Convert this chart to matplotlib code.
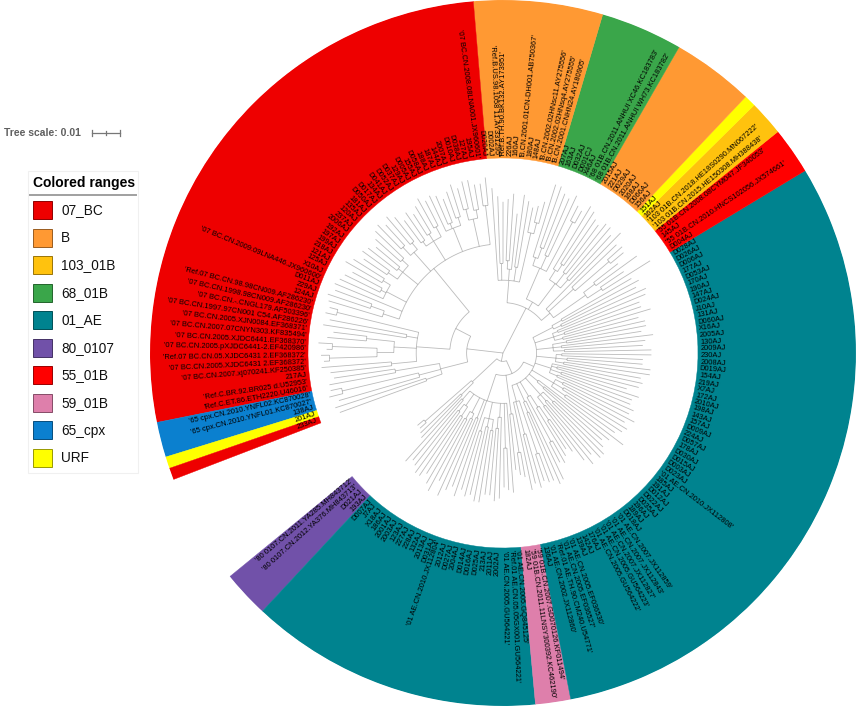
import numpy as np
import matplotlib
matplotlib.use("Agg")
import matplotlib.pyplot as plt
from matplotlib.patches import Rectangle
from matplotlib.colors import to_rgb

plt.rcParams['font.family'] = ['Liberation Sans', 'DejaVu Sans']

# ---------------- data ----------------
# branch lengths in units of 0.001 substitutions/site
PURPLE = "(('80 0107.CN.2011.YA285.MH843712':3,'80 0107.CN.2012.YA376.MH843713':3):22,(D021AJ:20,193AJ:21):6):12"
TEAL_A = ("((D007AJ:30,J7AJ:28):4,((X18AJ:25,186AJ:27):3,(2001AJ:26,2003AJ:24):4):5,"
          "((123AJ:27,227AJ:29):3,(228AJ:25,132AJ:30):2):6,(2013AJ:28,D031AJ:26):7,"
          "'01 AE.CN.2010.JX112804':36,((2012AJ:22,D027AJ:24):5,(2004AJ:25,D014AJ:27):3,(D016AJ:26,D025AJ:23):4):6,"
          "((213AJ:24,2011AJ:26):4,2002AJ:29):5,('01 AE.CN.2005.GU564221':14,'Ref.01 AE.CN.05.05GX001.GU564221':15):16,"
          "'01 AE.CN.2005.GQ845125':32):10")
PINK = "(182AJ:20,('59 01B.CN.2011.11LNSY300392.KC462190':8,'59 01B.CN.2007.GD070126.KF011494':9):14):14"
TEAL_B = [
    "(136AJ:32,('01 AE.CN.2002.JX112860':18,'Ref.01 AE.TH.90.CM240.U54771':20):12,('01 AE.CN.2005.EF036527':10,'01 AE.CN.2005.EF036530':11):20):6",
    "((139AJ:26,142AJ:28):4,176AJ:31):7",
    "(('01 AE.CN.2005.GU564222':8,'01 AE.CN.2005.GU564223':9):18,('01 AE.CN.2007.JX112827':20,('01 AE.CN.2007.JX112843':12,'01 AE.CN.2007.JX112859':14):6):5):6",
    "((D018AJ:24,189AJ:27):4,(196AJ:25,D035AJ:28):3,(D022AJ:26,D012AJ:24):5):8",
    "((191AJ:28,185AJ:30):3,'01 AE.CN.2010.JX112808':38):4",
    "((D023AJ:22,D003AJ:24):6,(D015AJ:27,D030AJ:25):4,(178AJ:29,D057AJ:26):3):9",
    "((224AJ:30,D009AJ:28):3,(157AJ:27,143AJ:29):4,(198AJ:26,2010AJ:30):2,172AJ:33):6",
    "((X7AJ:28,219AJ:31):3,(154AJ:30,D019AJ:27):4,(2008AJ:29,230AJ:32):2):7",
    "((2009AJ:31,130AJ:28):4,(2005AJ:30,X16AJ:33):3,(D060AJ:27,131AJ:29):5):6",
    "((J10AJ:30,D024AJ:28):3,(147AJ:32,190AJ:29):4,(170AJ:31,D053AJ:34):2):7",
    "((177AJ:33,D006AJ:30):3,(D026AJ:31,D028AJ:29):4):8",
]
R55 = "((D004AJ:20,'55 01B.CN.2010.HNCS102056.JX574661':10):6,(145AJ:18,'55 01B.CN.2008.08CYM047.JF340053':11):5):14"
GOLD = "(('103 01B.CN.2015.HE150308.MH388438':6,'103 01B.CN.2018.HE18S0290.MN067222':7):16,162AJ:22):12"
YEL = "151AJ:38"
OB2 = "((156AJ:22,D066AJ:24):4,(168AJ:23,2020AJ:21):5,((D029AJ:20,221AJ:22):3,2015AJ:26):4):10"
GREEN = ("(('68 01B.CN.2011.ANHUI WH73.KC183782':5,'68 01B.CN.2011.ANHUI XC46.KC183783':6):20,"
         "(X46AJ:24,D001CJ:22):5,((D032AJ:21,163AJ:23):4,207AJ:27):3):12")
OB1 = ("((('B.CN.2001.CNHN24.AY180905':8,'B.CN.2002.02HNsq4.AY275555':6):4,'B.CN.2002.02HNsc11.AY275556':9):18,"
       "(148AJ:24,180AJ:26):5,('B.CN.2001.01CN-DH001.AB750367':20,(160AJ:24,226AJ:22):3):4,"
       "('Ref.B.TH.90.BK132.AY173951':22,'Ref.B.US.98.1058 11.AY331295':24):6,D002AJ:33):8")
BCMAIN = ("((D020AJ:10,'07 BC.CN.2008.08LNA001.JX960601':8):14,((195AJ:9,127AJ:11):3,(D038AJ:10,D010AJ:8):4):10,"
          "((2007AJ:12,144AJ:10):3,(187AJ:9,188AJ:11):2,D058AJ:14):9,"
          "((155AJ:10,D005AJ:12):4,(129AJ:11,D037AJ:9):3,(D052AJ:12,D041AJ:10):2):8,"
          "((134AJ:11,D017AJ:13):3,(D050AJ:10,181AJ:12):4):9,"
          "((135AJ:14,120AJ:12):3,(237AJ:11,2006AJ:13):2,(192AJ:12,197AJ:10):4):7,"
          "((199AJ:13,218AJ:15):3,(121AJ:12,125AJ:14):2,X10AJ:17):8,"
          "'07 BC.CN.2009.09LNA446.JX960600':26,((D011AJ:14,229AJ:16):5,124AJ:20):6):20")
REFS = ("(('Ref.07 BC.CN.98.98CN009.AF286230':3,'07 BC.CN.1998.98CN009.AF286230':4):30,"
        "('07 BC.CN.-.CNGL179.AF503396':28,'07 BC.CN.1997.97CN001 C54.AF286226':30):4,"
        "(('07 BC.CN.2005.XJN0084.EF368371':12,'07 BC.CN.2007.07CNYN303.KF835494':14):10,"
        "(('07 BC.CN.2005.XJDC6441.EF368370':5,'07 BC.CN.2005.pXJDC6441-2.EF420986':2):16,"
        "('Ref.07 BC.CN.05.XJDC6431 2.EF368372':3,'07 BC.CN.2005.XJDC6431 2.EF368372':2):17):6):8,"
        "('07 BC.CN.2007.xj070241.KF250385':25,217AJ:22):9):12")
CGROUP = ("(('Ref.C.BR.92.BR025 d.U52953':22,'Ref.C.ET.86.ETH2220.U46016':24):16,"
          "(('65 cpx.CN.2010.YNFL02.KC870028':4,'65 cpx.CN.2010.YNFL01.KC870027':5):28,138AJ:30):8,"
          "(201AJ:34,233AJ:33):6):10")

AE = "(" + PURPLE + ",(" + TEAL_A + "," + PINK + ",(" + ",".join(TEAL_B) + "):4):5):3"
BGROUP = "((" + R55 + "," + GOLD + "," + YEL + "):4,(" + OB2 + "," + GREEN + "):3," + OB1 + "):18"
BC = "((" + BCMAIN + "," + REFS + "):6," + CGROUP + "):13"
NEWICK = "(" + AE + "," + BGROUP + "," + BC + ");"

# colored ranges in leaf order
RANGE_ORDER = ['80_0107', '01_AE', '59_01B', '01_AE', '55_01B', '103_01B', 'URF', 'B',
               '68_01B', 'B', '07_BC', '65_cpx', 'URF', '07_BC']
RANGE_COUNTS = [4, 25, 3, 57, 4, 3, 1, 7, 7, 11, 50, 3, 1, 1]
LEGEND_NAMES = ['07_BC', 'B', '103_01B', '68_01B', '01_AE', '80_0107', '55_01B', '59_01B', '65_cpx', 'URF']
LEGEND_COLORS = ['#ee0000', '#ff9933', '#ffc20e', '#3aa64a', '#00838f', '#7151a9', '#ff0000',
                 '#de7fab', '#0b80cf', '#ffff00']
COLORS = dict(zip(LEGEND_NAMES, LEGEND_COLORS))
TREE_SCALE = 0.01

# ---------------- layout constants ----------------
W, H = 858, 710
CX, CY = 503, 353          # tree centre (px)
R_OUT_PX = 353
PX_PER_UNIT = 2.8          # px per 0.001
R_OUT = R_OUT_PX / PX_PER_UNIT
R_IN = 195 / PX_PER_UNIT
R_LAB = 197.5 / PX_PER_UNIT
START, SPAN = 219.3, 341.7


def clean(s):
    out, q = [], False
    for ch in s:
        if ch == "'":
            q = not q
        if not q and ch in ' \n\t':
            continue
        out.append(ch)
    return ''.join(out)


def parse(s):
    pos = 0

    def node():
        nonlocal pos
        children = []
        if s[pos] == '(':
            pos += 1
            while True:
                children.append(node())
                if s[pos] == ',':
                    pos += 1
                    continue
                if s[pos] == ')':
                    pos += 1
                    break
        if s[pos] == "'":
            end = s.index("'", pos + 1)
            name = s[pos:end + 1]
            pos = end + 1
        else:
            st = pos
            while s[pos] not in ':,();':
                pos += 1
            name = s[st:pos]
        length = 0.0
        if s[pos] == ':':
            pos += 1
            st = pos
            while s[pos] not in ',();':
                pos += 1
            length = float(s[st:pos])
        return {'name': name, 'children': children, 'len': length}

    return node()


tree = parse(clean(NEWICK))
leaves = []


def collect(n):
    if not n['children']:
        leaves.append(n)
    for c in n['children']:
        collect(c)


collect(tree)
N = len(leaves)
step = SPAN / N
for i, lf in enumerate(leaves):
    lf['theta'] = START + (i + 0.5) * step


def layout(n, r0):
    n['r'] = r0 + n['len']
    for c in n['children']:
        layout(c, n['r'])
    if n['children']:
        n['theta'] = 0.5 * (n['children'][0]['theta'] + n['children'][-1]['theta'])


layout(tree, 0.0)

TH, RR = [], []


def segs(n, parent_r):
    if n is not tree:
        TH.extend([np.radians(n['theta'])] * 2 + [np.nan])
        RR.extend([parent_r, n['r'], np.nan])
    if n['children'] and n['r'] > 0:
        t0, t1 = n['children'][0]['theta'], n['children'][-1]['theta']
        k = max(2, int(abs(t1 - t0) / 0.5) + 2)
        tt = np.radians(np.linspace(t0, t1, k))
        TH.extend(list(tt) + [np.nan])
        RR.extend([n['r']] * k + [np.nan])
    for c in n['children']:
        segs(c, n['r'])


segs(tree, 0.0)

# ---------------- figure ----------------
fig = plt.figure(figsize=(W / 100, H / 100), dpi=100)
fig.patch.set_facecolor('white')

lax = fig.add_axes([0, 0, 1, 1])
lax.set_xlim(0, W)
lax.set_ylim(H, 0)
lax.axis('off')

rect = [(CX - R_OUT_PX) / W, (H - CY - R_OUT_PX) / H, 2 * R_OUT_PX / W, 2 * R_OUT_PX / H]
ax = fig.add_axes(rect, projection='polar')
ax.set_ylim(0, R_OUT)
ax.set_axis_off()

# colored ranges
i0 = 0
for name, cnt in zip(RANGE_ORDER, RANGE_COUNTS):
    t0 = START + i0 * step
    t1 = START + (i0 + cnt) * step
    c = COLORS[name]
    ax.bar(np.radians((t0 + t1) / 2), R_OUT - R_IN, width=np.radians(t1 - t0), bottom=R_IN,
           color=c, edgecolor=c, linewidth=0.3, zorder=1)
    i0 += cnt

# tree branches
ax.plot(TH, RR, color='#bbbbbb', lw=0.6, zorder=2, solid_capstyle='butt')

# leaf labels
for lf in leaves:
    t = lf['theta'] % 360
    if 90 < t < 270:
        rot, ha = t - 180, 'right'
    else:
        rot, ha = t, 'left'
    ax.text(np.radians(lf['theta']), R_LAB, lf['name'], rotation=rot, rotation_mode='anchor',
            ha=ha, va='center', fontsize=5.4, color='black', zorder=3, clip_on=False)

# tree scale
sx, sy = 92, 133
bar_px = TREE_SCALE * 1000 * PX_PER_UNIT
lax.text(4, sy, 'Tree scale: %g' % TREE_SCALE, fontsize=7.5, fontweight='bold', color='#5f5f5f',
         va='center', ha='left')
lax.plot([sx, sx + bar_px], [sy, sy], color='#777777', lw=0.9)
for xx, hh in [(sx, 3), (sx + bar_px / 2, 2), (sx + bar_px, 3)]:
    lax.plot([xx, xx], [sy - hh, sy + hh], color='#777777', lw=0.9)

# legend
lax.add_patch(Rectangle((28, 171), 110, 302, facecolor='white', edgecolor='#f0f0f0', lw=0.8))
lax.text(33, 183, 'Colored ranges', fontsize=10, fontweight='bold', va='center', ha='left')
lax.plot([30, 136], [195, 195], color='#a0a0a0', lw=1.4)
for i, (nm, col) in enumerate(zip(LEGEND_NAMES, LEGEND_COLORS)):
    y = 210 + i * 27.5
    dark = tuple(v * 0.6 for v in to_rgb(col))
    lax.add_patch(Rectangle((33, y - 9), 19, 18, facecolor=col, edgecolor=dark, lw=0.7))
    lax.text(61, y + 0.5, nm, fontsize=9.8, va='center', ha='left', color='#111111')

fig.savefig('out.png', dpi=100, facecolor='white')
